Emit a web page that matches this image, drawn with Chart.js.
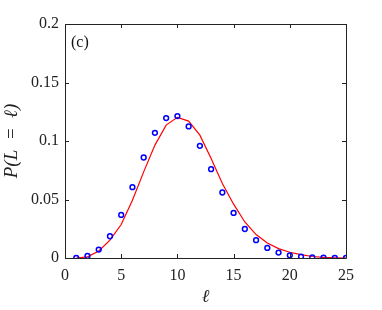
<!DOCTYPE html>
<html><head><meta charset="utf-8">
<script src="https://cdn.jsdelivr.net/npm/chart.js@4"></script>
<style>html,body{margin:0;padding:0;background:#fff}#wrap{width:382px;height:310px}</style>
</head><body><div id="wrap"><canvas id="c" width="382" height="310"></canvas></div>
<script>
const ells = [1,2,3,4,5,6,7,8,9,10,11,12,13,14,15,16,17,18,19,20,21,22,23,24,25];
const simValues = [0.0,0.0017,0.0072,0.0186,0.0368,0.0605,0.0859,0.107,0.1196,0.1213,0.1125,0.0959,0.0759,0.056,0.0385,0.0248,0.0152,0.0086,0.0046,0.0023,0.0012,0.0005,0.0002,0.0001,0.0];
const theoryValues = [0.0,0.001,0.006,0.0152,0.0286,0.0494,0.0736,0.0965,0.1136,0.1202,0.117,0.105,0.0851,0.0637,0.046,0.0308,0.02,0.0128,0.008,0.0049,0.0029,0.0013,0.0006,0.0002,0.0];
const xTicks = [0,5,10,15,20,25];
const yTicks = [0,0.05,0.1,0.15,0.2];

const serif = "'Liberation Serif','Times New Roman',serif";

const boxTicks = {
  id:'boxTicks',
  afterDatasetsDraw(chart){
    const {ctx, chartArea:a, scales:{x,y}} = chart;
    ctx.save();
    ctx.strokeStyle = '#222';
    ctx.lineWidth = 1;
    ctx.beginPath();
    ctx.rect(Math.round(a.left)+0.5, Math.round(a.top)+0.5, Math.round(a.right-a.left), Math.round(a.bottom-a.top));
    ctx.stroke();
    const L = 4;
    ctx.beginPath();
    xTicks.forEach(v=>{const px=Math.round(x.getPixelForValue(v))+0.5;
      ctx.moveTo(px,a.bottom);ctx.lineTo(px,a.bottom-L);
      ctx.moveTo(px,a.top);ctx.lineTo(px,a.top+L);});
    yTicks.forEach(v=>{const py=Math.round(y.getPixelForValue(v))+0.5;
      ctx.moveTo(a.left,py);ctx.lineTo(a.left+L,py);
      ctx.moveTo(a.right,py);ctx.lineTo(a.right-L,py);});
    ctx.stroke();
    ctx.fillStyle='#111';
    ctx.font = "16px "+serif;
    ctx.textBaseline='middle';
    ctx.fillText('(c)', a.left+6, a.top+19);
    ctx.restore();
  }
};

new Chart(document.getElementById('c'), {
  type:'line',
  data:{
    datasets:[
      {label:'theory', data: ells.map((e,i)=>({x:e,y:theoryValues[i]})), borderColor:'#ff0000', borderWidth:1.2, pointRadius:0, fill:false, tension:0, order:2},
      {label:'simulation', data: ells.map((e,i)=>({x:e,y:simValues[i]})), showLine:false, borderColor:'#0000ff', backgroundColor:'rgba(0,0,0,0)', pointRadius:2.4, pointBorderWidth:1.5, pointStyle:'circle', order:1}
    ]
  },
  options:{
    responsive:false, animation:false, devicePixelRatio:1,
    layout:{padding:{top:24,right:36,left:0,bottom:0}},
    plugins:{legend:{display:false}, tooltip:{enabled:false}},
    scales:{
      x:{type:'linear', min:0, max:25,
        afterBuildTicks(s){s.ticks = xTicks.map(v=>({value:v}));},
        afterFit(s){s.height = 52;},
        grid:{display:false, drawTicks:false},
        border:{display:false},
        ticks:{padding:8, color:'#222', font:{family:serif,size:16}, callback:v=>String(v)},
        title:{display:true, text:'ℓ', color:'#222', font:{family:serif,size:18,style:'italic'}, padding:{top:0,bottom:2}}
      },
      y:{type:'linear', min:0, max:0.2,
        afterBuildTicks(s){s.ticks = yTicks.map(v=>({value:v}));},
        afterFit(s){s.width = 65;},
        grid:{display:false, drawTicks:false},
        border:{display:false},
        ticks:{padding:6, color:'#222', font:{family:serif,size:16}, callback:v=>String(+v.toFixed(2))},
        title:{display:true, text:'P(L\u2002=\u2002ℓ)', color:'#222', font:{family:serif,size:19,style:'italic'}, padding:{top:1,bottom:0}}
      }
    }
  },
  plugins:[boxTicks]
});
</script></body></html>
